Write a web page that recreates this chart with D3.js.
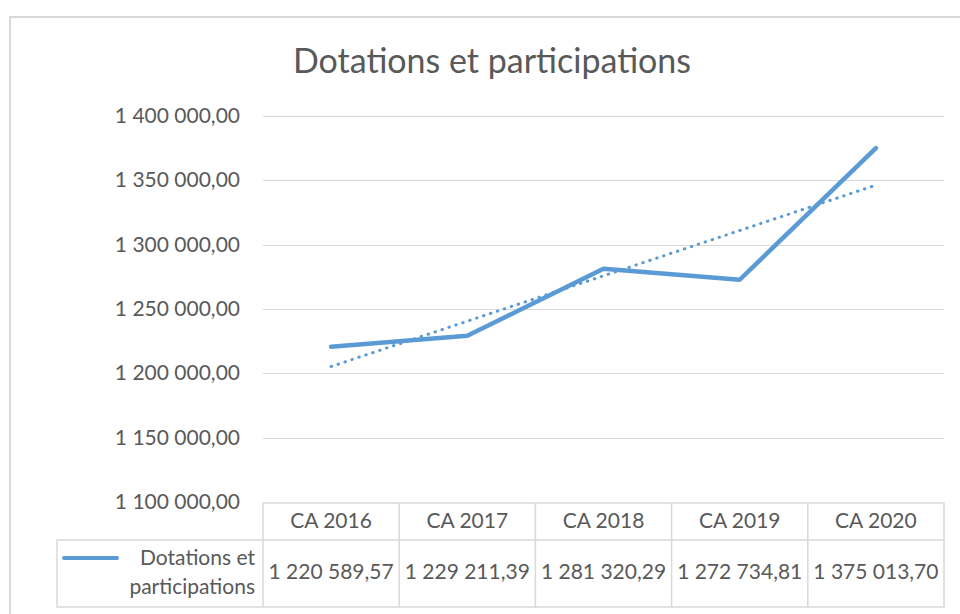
<!DOCTYPE html>
<html>
<head>
<meta charset="utf-8">
<script src="https://cdn.jsdelivr.net/npm/d3@7"></script>
<style>
  body { margin: 0; background: #fff; }
  svg { display: block; }
  text { font-family: Lato, "Open Sans", sans-serif; fill: #595959; }
</style>
</head>
<body>
<svg id="chart" width="960" height="614"></svg>
<script>
const title = 'Dotations et participations';
const seriesName = ['Dotations et', 'participations'];
const categories = ['CA 2016', 'CA 2017', 'CA 2018', 'CA 2019', 'CA 2020'];
const values = [1220589.57, 1229211.39, 1281320.29, 1272734.81, 1375013.70];
const yTicks = [1100000, 1150000, 1200000, 1250000, 1300000, 1350000, 1400000];

const svg = d3.select('#chart');
const blue = '#5b9bd5';
const grid = '#d9d9d9';

const fr = d3.formatLocale({decimal: ',', thousands: '\u00a0', grouping: [3], currency: ['', '']});
const fmt = fr.format(',.2f');

// chart frame
svg.append('rect')
  .attr('x', 10).attr('y', 17)
  .attr('width', 1000).attr('height', 700)
  .attr('fill', 'none')
  .attr('stroke', grid)
  .attr('stroke-width', 2);

svg.append('text')
  .attr('x', 492).attr('y', 73)
  .attr('text-anchor', 'middle')
  .attr('font-size', 34)
  .text(title);

const x = d3.scaleBand().domain(categories).range([263, 944]);
const y = d3.scaleLinear().domain([1100000, 1400000]).range([502, 116]);

// gridlines + y labels
const yAxis = svg.append('g');
yAxis.selectAll('line')
  .data(yTicks.filter(d => d > 1100000))
  .enter()
  .append('line')
  .attr('x1', 263).attr('x2', 944)
  .attr('y1', d => Math.round(y(d)) + 0.5)
  .attr('y2', d => Math.round(y(d)) + 0.5)
  .attr('stroke', grid)
  .attr('stroke-width', 1);

yAxis.selectAll('text')
  .data(yTicks)
  .enter()
  .append('text')
  .attr('x', 240)
  .attr('y', d => y(d) + 7)
  .attr('text-anchor', 'end')
  .attr('font-size', 21)
  .text(d => fmt(d));

// data table
const rowTop = 503, rowMid = 540, rowBot = 607, legendLeft = 57;
const table = svg.append('g')
  .attr('stroke', grid)
  .attr('stroke-width', 1.5)
  .attr('fill', 'none');
table.append('path')
  .attr('d', `M${x.range()[0]},${rowTop}H${x.range()[1]}V${rowBot}H${legendLeft}V${rowMid}H${x.range()[1]}`);
categories.forEach(c => {
  table.append('line')
    .attr('x1', x(c)).attr('x2', x(c))
    .attr('y1', rowTop).attr('y2', rowBot);
});

svg.append('g').selectAll('text')
  .data(categories)
  .enter()
  .append('text')
  .attr('x', d => x(d) + x.bandwidth() / 2)
  .attr('y', 528)
  .attr('text-anchor', 'middle')
  .attr('font-size', 21)
  .text(d => d);

svg.append('g').selectAll('text')
  .data(values)
  .enter()
  .append('text')
  .attr('x', (d, i) => x(categories[i]) + x.bandwidth() / 2)
  .attr('y', 579)
  .attr('text-anchor', 'middle')
  .attr('font-size', 21)
  .text(d => fmt(d));

// legend key
svg.append('line')
  .attr('x1', 64).attr('x2', 117)
  .attr('y1', 558).attr('y2', 558)
  .attr('stroke', blue)
  .attr('stroke-width', 4)
  .attr('stroke-linecap', 'round');
svg.append('g').selectAll('text')
  .data(seriesName)
  .enter()
  .append('text')
  .attr('x', 255)
  .attr('y', (d, i) => 565 + i * 29)
  .attr('text-anchor', 'end')
  .attr('font-size', 21)
  .text(d => d);

// linear trendline (least squares on category index)
const n = values.length;
const mx = (n + 1) / 2;
const my = d3.mean(values);
const slope = d3.sum(values, (v, i) => (i + 1 - mx) * (v - my)) / d3.sum(values, (v, i) => (i + 1 - mx) ** 2);
const trend = values.map((v, i) => my + slope * (i + 1 - mx));

const cx = c => x(c) + x.bandwidth() / 2;
const line = d3.line()
  .x((d, i) => cx(categories[i]))
  .y(d => y(d));

svg.append('path')
  .datum([trend[0], trend[n - 1]])
  .attr('d', d3.line().x((d, i) => cx(categories[i * (n - 1)])).y(d => y(d)))
  .attr('fill', 'none')
  .attr('stroke', blue)
  .attr('stroke-width', 3)
  .attr('stroke-linecap', 'round')
  .attr('stroke-dasharray', '0.5 6.8');

svg.append('path')
  .datum(values)
  .attr('d', line)
  .attr('fill', 'none')
  .attr('stroke', blue)
  .attr('stroke-width', 4.5)
  .attr('stroke-linejoin', 'round')
  .attr('stroke-linecap', 'round');
</script>
</body>
</html>
